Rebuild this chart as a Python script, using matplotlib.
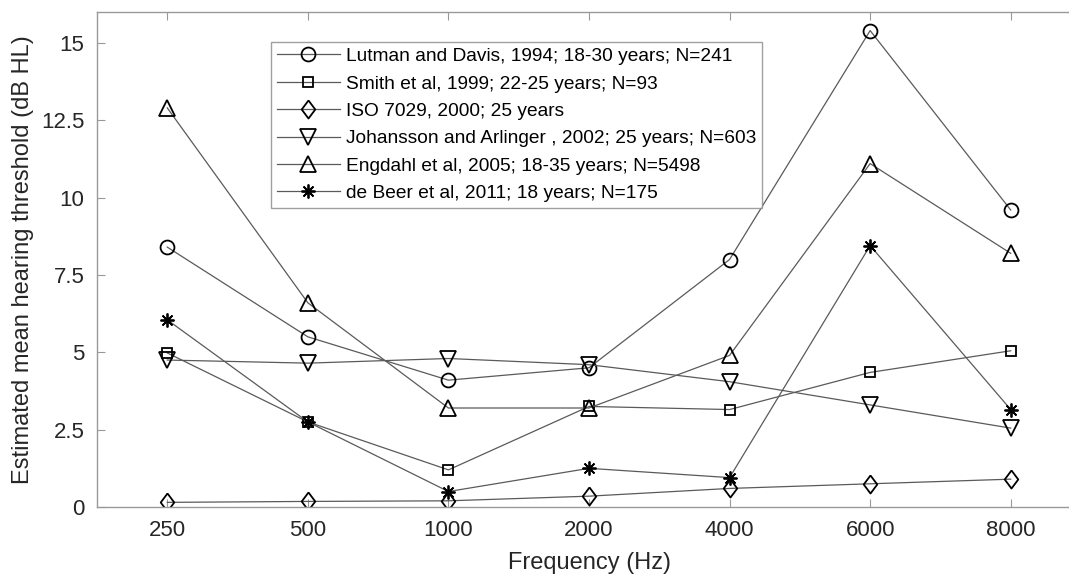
import numpy as np
import matplotlib.pyplot as plt

plt.rcParams['font.family'] = ['Liberation Sans', 'DejaVu Sans']

freqs = ['250', '500', '1000', '2000', '4000', '6000', '8000']

lutman = [8.4, 5.5, 4.1, 4.5, 8.0, 15.4, 9.6]
smith = [4.98, 2.75, 1.2, 3.25, 3.15, 4.35, 5.05]
iso = [0.15, 0.18, 0.2, 0.35, 0.6, 0.75, 0.9]
johansson = [4.75, 4.65, 4.8, 4.6, 4.05, 3.3, 2.55]
engdahl = [12.9, 6.6, 3.2, 3.2, 4.9, 11.1, 8.2]
debeer = [6.05, 2.75, 0.5, 1.25, 0.95, 8.45, 3.15]

labels = [
    'Lutman and Davis, 1994; 18-30 years; N=241',
    'Smith et al, 1999; 22-25 years; N=93',
    'ISO 7029, 2000; 25 years',
    'Johansson and Arlinger , 2002; 25 years; N=603',
    'Engdahl et al, 2005; 18-35 years; N=5498',
    'de Beer et al, 2011; 18 years; N=175',
]
series = [lutman, smith, iso, johansson, engdahl, debeer]

# MATLAB-ish markers
diamond = [(0, 1), (0.75, 0), (0, -1), (-0.75, 0), (0, 1)]
markers = ['o', 's', diamond, 'v', '^', (8, 2, 0)]
msizes = [10, 7.5, 13, 11, 11, 10]

fig = plt.figure(figsize=(10.69, 5.76), dpi=100)
W, H = 1069, 576
# right edge falls just outside the picture, as in the reference
ax = fig.add_axes([97 / W, 1 - 507 / H, (1081 - 97) / W, (507 - 12) / H])

x = np.arange(1, len(freqs) + 1)
for vals, lab, m, ms in zip(series, labels, markers, msizes):
    ax.plot(x, vals, color='#5a5a5a', lw=0.9, marker=m, ms=ms,
            mfc='none', mec='black', mew=1.3, label=lab)

ax.set_xlim(0.5, 7.5)
ax.set_ylim(0, 16)
ax.set_xticks(x)
ax.set_xticklabels(freqs)
ax.set_yticks([0, 2.5, 5, 7.5, 10, 12.5, 15])
ax.set_yticklabels(['0', '2.5', '5', '7.5', '10', '12.5', '15'])
ax.tick_params(direction='in', length=6, width=0.8, color='#999999',
               labelsize=16, labelcolor='#262626', top=True, right=True, pad=9)
for s in ax.spines.values():
    s.set_color('#999999')
    s.set_linewidth(1.0)

ax.set_xlabel('Frequency (Hz)', fontsize=17, color='#262626', labelpad=8)
ax.set_ylabel('Estimated mean hearing threshold (dB HL)', fontsize=17,
              color='#262626', labelpad=5)

leg = ax.legend(loc='upper left', bbox_to_anchor=((271 - 97) / (1081 - 97), 1 - 30 / 495),
                fontsize=13.8, frameon=True, fancybox=False, handlelength=3.3,
                labelspacing=0.52, borderpad=0.3, handletextpad=0.3,
                borderaxespad=0)
leg.get_frame().set_edgecolor('#888888')
leg.get_frame().set_linewidth(1.0)

fig.savefig('out.png', dpi=100)
